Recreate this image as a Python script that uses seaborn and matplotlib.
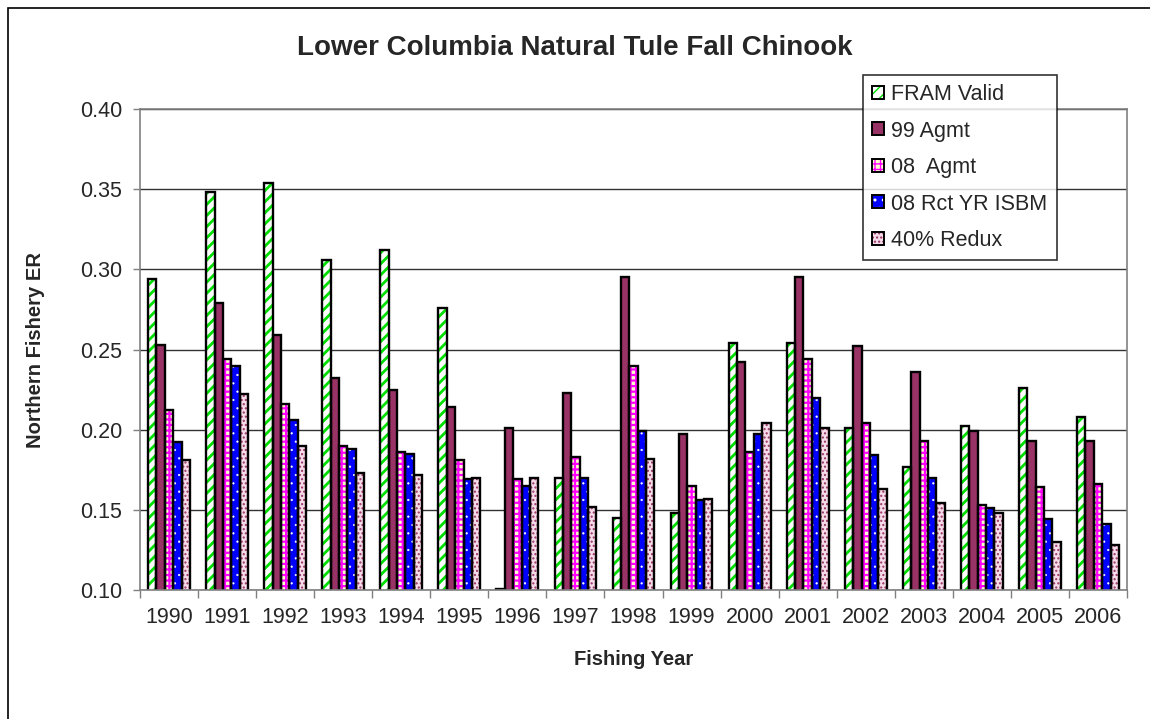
import numpy as np
import pandas as pd
import matplotlib
matplotlib.use("Agg")
import matplotlib.pyplot as plt
from matplotlib.patches import Rectangle, Patch
from matplotlib.legend_handler import HandlerTuple
from matplotlib.ticker import FixedLocator, MultipleLocator
import seaborn as sns

years = [str(y) for y in range(1990, 2007)]
series_names = ["FRAM Valid", "99 Agmt", "08  Agmt", "08 Rct YR ISBM", "40% Redux"]

fram_valid = [0.294, 0.348, 0.354, 0.306, 0.312, 0.276, 0.1007, 0.170, 0.145, 0.148,
              0.254, 0.254, 0.201, 0.177, 0.202, 0.226, 0.208]
agmt_99 = [0.253, 0.279, 0.259, 0.232, 0.225, 0.214, 0.201, 0.223, 0.295, 0.197,
           0.242, 0.295, 0.252, 0.236, 0.199, 0.193, 0.193]
agmt_08 = [0.212, 0.244, 0.216, 0.190, 0.186, 0.181, 0.169, 0.183, 0.240, 0.165,
           0.186, 0.244, 0.204, 0.193, 0.153, 0.164, 0.166]
rct_isbm_08 = [0.192, 0.240, 0.206, 0.188, 0.185, 0.169, 0.165, 0.170, 0.199, 0.156,
               0.197, 0.220, 0.184, 0.170, 0.151, 0.144, 0.141]
redux_40 = [0.181, 0.222, 0.190, 0.173, 0.172, 0.170, 0.170, 0.152, 0.182, 0.157,
            0.204, 0.201, 0.163, 0.154, 0.148, 0.130, 0.128]

all_series = [fram_valid, agmt_99, agmt_08, rct_isbm_08, redux_40]

df = pd.DataFrame({
    "year": np.repeat([years], len(series_names), axis=0).ravel(),
    "series": np.repeat(series_names, len(years)),
    "value": np.concatenate(all_series),
})

# style: (facecolor, hatch, hatchcolor, hatch linewidth)
styles = [
    ("white", "///", "#00E000", 2.0),
    ("#993366", None, "#993366", 1.0),
    ("#FFFFCC", "+++", "#FF00FF", 1.6),
    ("#0000FF", "..", "white", 0.4),
    ("#F6DCE8", "....", "#993366", 1.0),
]

sns.set_style("white")
plt.rcParams["font.family"] = ["Liberation Sans", "DejaVu Sans"]
plt.rcParams["hatch.linewidth"] = 1.0


def apply_style(p, fc, hatch, hc, hlw):
    p.set_facecolor(fc)
    p.set_edgecolor(hc)
    p.set_hatch(hatch)
    p.set_linewidth(0)
    if hasattr(p, "set_hatch_linewidth"):
        p.set_hatch_linewidth(hlw)
    else:
        p._hatch_linewidth = hlw


fig = plt.figure(figsize=(11.5, 7.19), dpi=100)
ax = fig.add_axes([140 / 1150, 1 - 590 / 719, (1127 - 140) / 1150, (590 - 109) / 719])

sns.barplot(data=df, x="year", y="value", hue="series", order=years,
            hue_order=series_names, palette=[s[0] for s in styles],
            width=0.72, gap=0, legend=False, ax=ax, saturation=1, errorbar=None)

for cont, st in zip(ax.containers, styles):
    for bar in cont:
        apply_style(bar, *st)
        x0, y0 = bar.get_xy()
        outline = Rectangle((x0, y0), bar.get_width(), bar.get_height(),
                            fill=False, edgecolor="black", linewidth=1.7,
                            zorder=bar.get_zorder() + 0.1)
        ax.add_patch(outline)

ax.set_ylim(0.10, 0.40)
ax.set_xlim(-0.5, len(years) - 0.5)
ax.yaxis.set_major_locator(MultipleLocator(0.05))
ax.yaxis.set_major_formatter(matplotlib.ticker.FormatStrFormatter("%.2f"))
ax.grid(axis="y", color="#333333", linewidth=1)
ax.set_axisbelow(True)
for s in ax.spines.values():
    s.set_visible(True)
    s.set_color("#808080")
    s.set_linewidth(1.2)

ax.tick_params(axis="y", which="major", direction="out", length=5, width=1, color="#808080",
               labelsize=15.5, pad=8, left=True)
ax.tick_params(axis="x", which="major", length=0, labelsize=15.5, pad=12)
ax.xaxis.set_minor_locator(FixedLocator(np.arange(-0.5, len(years), 1.0)))
ax.tick_params(axis="x", which="minor", direction="out", length=6, width=1, color="#808080", bottom=True)

ax.set_xlabel("Fishing Year", fontsize=14.5, fontweight="bold", labelpad=16)
ax.set_ylabel("Northern Fishery ER", fontsize=14.5, fontweight="bold", labelpad=25)

fig.text(0.5, 1 - 48 / 719, "Lower Columbia Natural Tule Fall Chinook", ha="center", va="center",
         fontsize=20, fontweight="bold")

handles = []
for st in styles:
    p1 = Patch()
    apply_style(p1, *st)
    p2 = Patch(facecolor="none", edgecolor="black", linewidth=1.4)
    handles.append((p1, p2))
leg = fig.legend(handles, series_names, handler_map={tuple: HandlerTuple(ndivide=1, pad=0)},
                 loc="upper left", bbox_to_anchor=(863 / 1150, 1 - 75 / 719),
                 bbox_transform=fig.transFigure, borderaxespad=0, fontsize=15.5,
                 handlelength=0.55, handleheight=0.55, handletextpad=0.35,
                 labelspacing=0.72, borderpad=0.42, fancybox=False, frameon=True)
leg.get_frame().set_edgecolor("black")
leg.get_frame().set_linewidth(1.2)

frame = Rectangle((8 / 1150, -0.1), 1.2, 1.1 - 8 / 719, transform=fig.transFigure,
                  fill=False, edgecolor="black", linewidth=1.2)
fig.patches.append(frame)

fig.savefig("out.png", dpi=100)
